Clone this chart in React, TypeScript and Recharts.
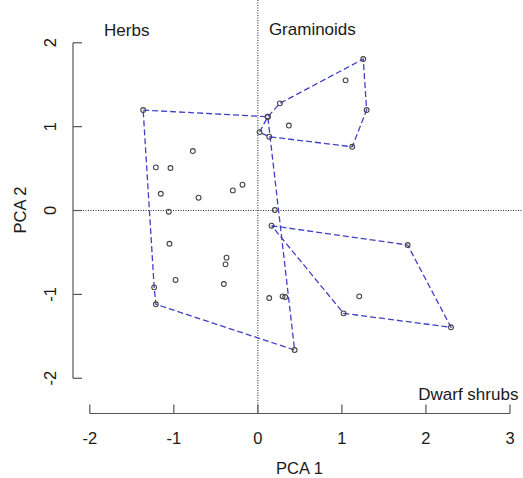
import { ScatterChart, Scatter, XAxis, YAxis, ReferenceLine, ReferenceDot } from "recharts";

// PCA scores, one list per plant group
const herbs = [
	{ x: -1.365, y: 1.198 },
	{ x: 0.118, y: 1.118 },
	{ x: 0.437, y: -1.663 },
	{ x: -1.214, y: -1.118 },
	{ x: -1.234, y: -0.916 },
	{ x: -0.774, y: 0.709 },
	{ x: -1.214, y: 0.515 },
	{ x: -1.04, y: 0.507 },
	{ x: -1.155, y: 0.2 },
	{ x: -0.706, y: 0.153 },
	{ x: -0.298, y: 0.24 },
	{ x: -0.183, y: 0.308 },
	{ x: -1.06, y: -0.014 },
	{ x: 0.202, y: 0.006 },
	{ x: -1.052, y: -0.396 },
	{ x: -0.373, y: -0.562 },
	{ x: -0.385, y: -0.642 },
	{ x: -0.98, y: -0.828 },
	{ x: -0.405, y: -0.876 },
	{ x: 0.135, y: -1.043 },
	{ x: 0.294, y: -1.023 },
	{ x: 0.325, y: -1.031 },
];
const herbsHull = [0, 1, 2, 3, 4, 0];

const graminoids = [
	{ x: 0.02, y: 0.935 },
	{ x: 0.118, y: 1.118 },
	{ x: 0.262, y: 1.278 },
	{ x: 1.254, y: 1.806 },
	{ x: 1.294, y: 1.198 },
	{ x: 1.123, y: 0.76 },
	{ x: 0.135, y: 0.88 },
	{ x: 1.044, y: 1.552 },
	{ x: 0.369, y: 1.013 },
];
const graminoidsHull = [0, 1, 2, 3, 4, 5, 6, 0];

const dwarfShrubs = [
	{ x: 0.163, y: -0.181 },
	{ x: 1.782, y: -0.411 },
	{ x: 2.298, y: -1.392 },
	{ x: 1.02, y: -1.226 },
	{ x: 1.206, y: -1.023 },
];
const dwarfShrubsHull = [0, 1, 2, 3, 0];

const groupLabels = [
	{ text: "Herbs", x: -1.83, y: 2.08, anchor: "start" },
	{ text: "Graminoids", x: 0.131, y: 2.09, anchor: "start" },
	{ text: "Dwarf shrubs", x: 3.1, y: -2.26, anchor: "end" },
];

const xTicks = [-2, -1, 0, 1, 2, 3];
const yTicks = [-2, -1, 0, 1, 2];
const X_DOMAIN: [number, number] = [-2.2, 3.155];
const Y_DOMAIN: [number, number] = [-2.42, 2.51];

const FONT = "'Liberation Sans', Arial, Helvetica, sans-serif";
const TEXT = "#1a1a1a";
const AXIS = "#555";
const HULL = "#4141c6";
const FS = 16.5;

const hull = (pts: { x: number; y: number }[], idx: number[]) => idx.map((i) => pts[i]);

function XTick({ x, y, payload }: any) {
	return (
		<g>
			<line x1={x} x2={x} y1={y} y2={y - 9} stroke={AXIS} strokeWidth={1.2} />
			<text x={x} y={y + 30.5} textAnchor="middle" fontSize={FS} fontFamily={FONT} fill={TEXT}>
				{payload.value}
			</text>
		</g>
	);
}

function YTick({ x, y, payload }: any) {
	return (
		<g>
			<line x1={x} x2={x + 9} y1={y} y2={y} stroke={AXIS} strokeWidth={1.2} />
			<text
				transform={`translate(${x - 23},${y}) rotate(-90)`}
				textAnchor="middle"
				dy="0.35em"
				fontSize={FS}
				fontFamily={FONT}
				fill={TEXT}
			>
				{payload.value}
			</text>
		</g>
	);
}

const pointShape = (p: any) => (
	<circle cx={p.cx} cy={p.cy} r={2.4} fill="none" stroke="#444" strokeWidth={1.1} />
);
const noShape = () => <g />;

const hullLine = { stroke: HULL, strokeWidth: 1.3, strokeDasharray: "6 3" };

export default function App() {
	return (
		<div style={{ position: "absolute", left: 0, top: 0, background: "#fff" }}>
			<ScatterChart width={523} height={478} margin={{ top: 0, right: 0, bottom: 0, left: 0 }}>
				<XAxis
					type="number"
					dataKey="x"
					domain={X_DOMAIN}
					ticks={xTicks}
					interval={0}
					allowDataOverflow
					axisLine={false}
					tickLine={false}
					tickSize={0}
					tickMargin={0}
					height={64.5}
					tick={(p: any) => <XTick {...p} />}
					label={{
						content: ({ viewBox }: any) => (
							<text
								x={viewBox.x + viewBox.width / 2 + 1.5}
								y={474}
								textAnchor="middle"
								fontSize={FS}
								fontFamily={FONT}
								fill={TEXT}
							>
								PCA 1
							</text>
						),
					}}
				/>
				<YAxis
					type="number"
					dataKey="y"
					domain={Y_DOMAIN}
					ticks={yTicks}
					interval={0}
					allowDataOverflow
					axisLine={false}
					tickLine={false}
					tickSize={0}
					tickMargin={0}
					width={73}
					tick={(p: any) => <YTick {...p} />}
					label={{
						content: () => (
							<text
								transform="translate(20,210) rotate(-90)"
								textAnchor="middle"
								dy="0.35em"
								fontSize={FS}
								fontFamily={FONT}
								fill={TEXT}
							>
								PCA 2
							</text>
						),
					}}
				/>
				<ReferenceLine x={0} stroke="#333" strokeDasharray="1 1.5" strokeWidth={1.1} />
				<ReferenceLine y={0} stroke="#333" strokeDasharray="1 1.5" strokeWidth={1.1} />
				<ReferenceLine
					segment={[
						{ x: xTicks[0], y: Y_DOMAIN[0] },
						{ x: xTicks[xTicks.length - 1], y: Y_DOMAIN[0] },
					]}
					stroke={AXIS}
					strokeWidth={1.2}
					ifOverflow="visible"
				/>
				<ReferenceLine
					segment={[
						{ x: X_DOMAIN[0], y: yTicks[0] },
						{ x: X_DOMAIN[0], y: yTicks[yTicks.length - 1] },
					]}
					stroke={AXIS}
					strokeWidth={1.2}
					ifOverflow="visible"
				/>

				<Scatter data={hull(herbs, herbsHull)} line={hullLine} shape={noShape} isAnimationActive={false} />
				<Scatter
					data={hull(graminoids, graminoidsHull)}
					line={hullLine}
					shape={noShape}
					isAnimationActive={false}
				/>
				<Scatter
					data={hull(dwarfShrubs, dwarfShrubsHull)}
					line={hullLine}
					shape={noShape}
					isAnimationActive={false}
				/>

				<Scatter data={herbs} shape={pointShape} isAnimationActive={false} />
				<Scatter data={graminoids} shape={pointShape} isAnimationActive={false} />
				<Scatter data={dwarfShrubs} shape={pointShape} isAnimationActive={false} />

				{groupLabels.map((g) => (
					<ReferenceDot
						key={g.text}
						x={g.x}
						y={g.y}
						r={0}
						ifOverflow="visible"
						shape={(p: any) => (
							<text
								x={p.cx}
								y={p.cy}
								textAnchor={g.anchor as any}
								fontSize={17}
								fontFamily={FONT}
								fill={TEXT}
							>
								{g.text}
							</text>
						)}
					/>
				))}
			</ScatterChart>
		</div>
	);
}
